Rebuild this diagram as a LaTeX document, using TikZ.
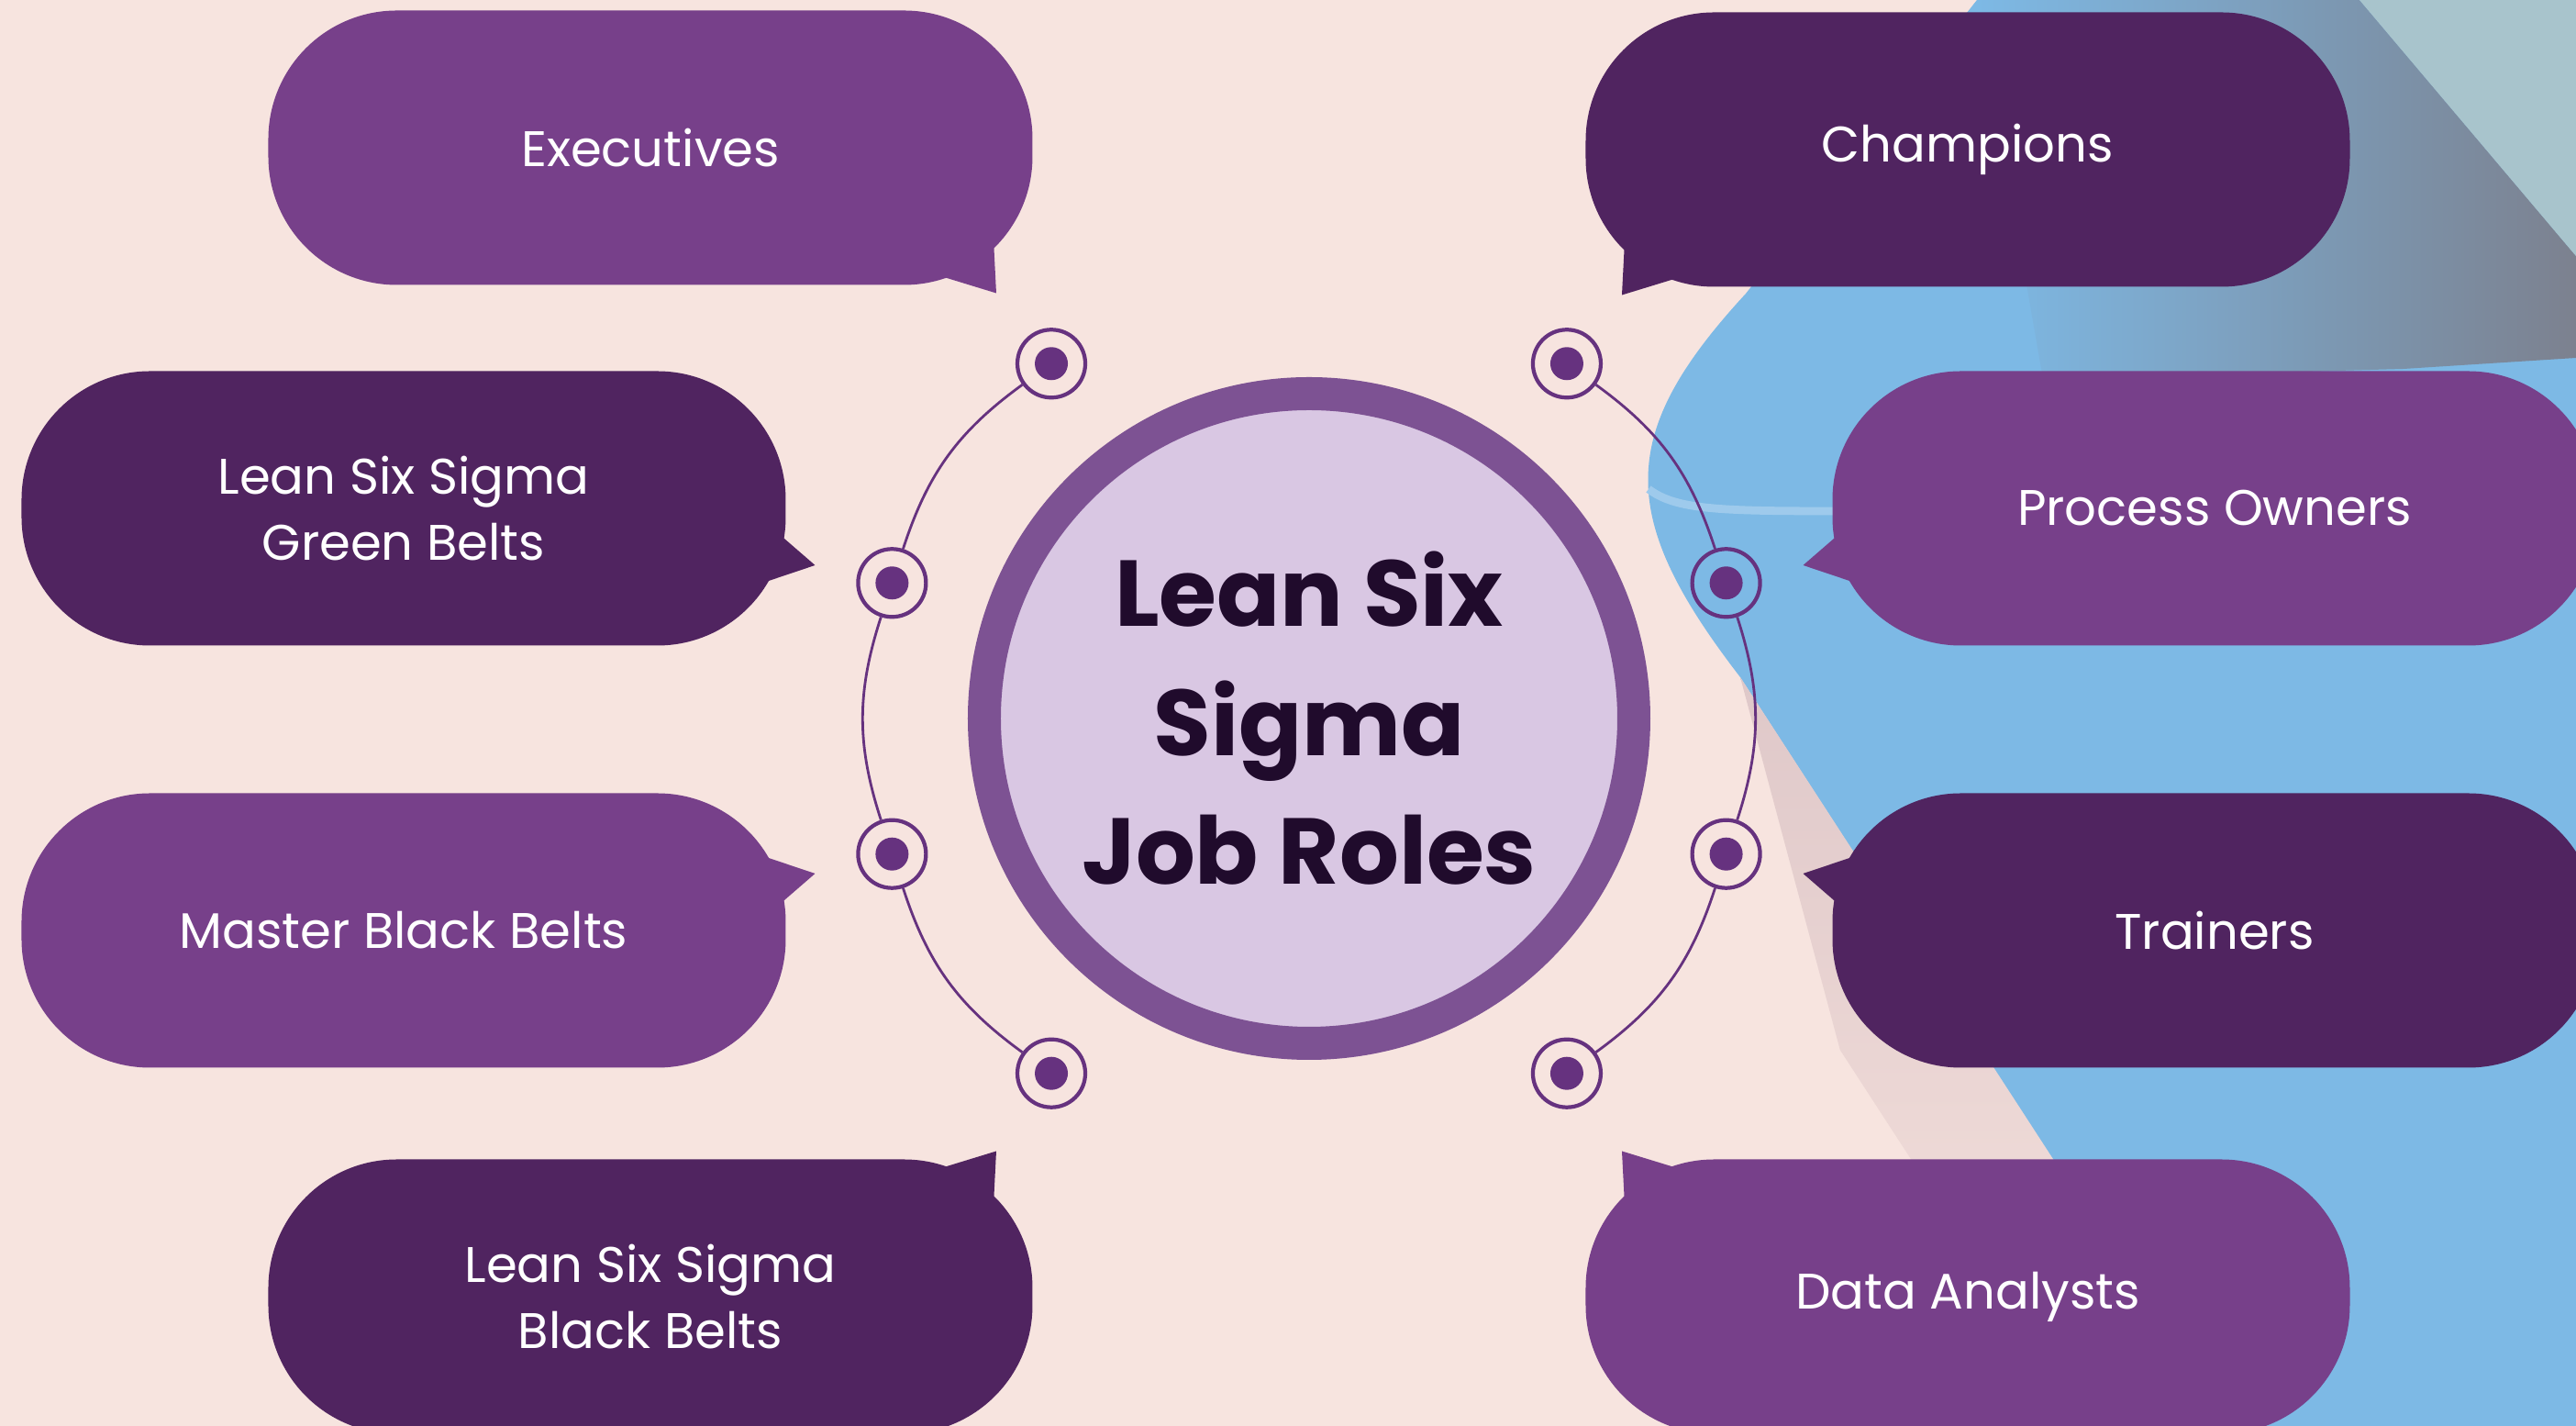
\documentclass[tikz,border=0pt]{standalone}
\usepackage{fontspec}
\setmainfont{Poppins}
\usetikzlibrary{positioning}
\definecolor{bgpink}{HTML}{F7E4DF}
\definecolor{shadowpink}{HTML}{DFC8C9}
\definecolor{plum}{HTML}{77408A}
\definecolor{darkplum}{HTML}{502460}
\definecolor{ringplum}{HTML}{7D5293}
\definecolor{lilac}{HTML}{D9C7E3}
\definecolor{dotplum}{HTML}{66327F}
\definecolor{titleink}{HTML}{200B2C}
\definecolor{skyblue}{HTML}{7DB9E5}
\definecolor{steelgray}{HTML}{7C818F}
\definecolor{paleblue}{HTML}{A8C4CC}
\tikzset{
  bubble/.style={rounded corners=1.4cm, minimum width=8.33cm, minimum height=2.99cm,
    text=white, align=center, font=\fontsize{15.5}{20.5}\selectfont},
  lightbub/.style={bubble, fill=plum},
  darkbub/.style={bubble, fill=darkplum},
  hub/.style={circle, fill=lilac, draw=ringplum, line width=0.36cm, minimum size=7.08cm,
    text=titleink, align=center, font=\fontsize{29}{40}\selectfont\bfseries},
  knob/.style={circle, draw=dotplum, line width=1.2pt, minimum size=0.74cm, inner sep=0pt,
    path picture={\fill[dotplum] (path picture bounding box.center) circle (0.18);}},
  link/.style={draw=dotplum, line width=0.8pt}
}

\begin{document}
\begin{tikzpicture}
\useasboundingbox (-14.27,-7.71) rectangle (13.81,7.83);
\fill[bgpink] (-14.27,-7.71) rectangle (13.81,7.83);
% blue shape behind the right column
\fill[skyblue] (7.28,7.83) -- (13.81,7.83) -- (13.81,-7.71) -- (9.98,-7.71) -- (4.70,0.45)
  .. controls (3.35,2.2) and (3.35,3.1) .. (4.76,4.63) -- cycle;
\shade[left color=skyblue, middle color=skyblue!45!steelgray, right color=steelgray]
  (7.28,7.83) -- (11.45,7.83) -- (13.81,5.04) -- (13.81,3.93) -- (11.93,3.81) -- (8.0,3.7) -- cycle;
\fill[paleblue] (11.45,7.83) -- (13.81,7.83) -- (13.81,5.04) -- cycle;
\draw[white!25!skyblue, line width=2.5pt] (3.70,2.50) .. controls (4.0,2.27) and (4.5,2.26) .. (5.8,2.26);
\begin{scope}[shift={(4.70,0.45)}, rotate=-57]
  \shade[bottom color=bgpink, top color=shadowpink] (0,0) -- (9.8,0) -- (9.8,-1.3) -- (4,-1.3) -- cycle;
\end{scope}

% role bubbles
\node[lightbub] (Ex) at (-7.18,6.22) {Executives};
\node[darkbub] (Ch) at (7.18,6.2) {Champions};
\node[darkbub] (GB) at (-9.87,2.29) {Lean Six Sigma\\Green Belts};
\node[lightbub] (PO) at (9.87,2.29) {Process Owners};
\node[lightbub] (MB) at (-9.87,-2.31) {Master Black Belts};
\node[darkbub] (Tr) at (9.87,-2.31) {Trainers};
\node[darkbub] (BB) at (-7.18,-6.3) {Lean Six Sigma\\Black Belts};
\node[lightbub] (DA) at (7.18,-6.3) {Data Analysts};

% tails
\fill[plum, shift={(Ex.center)}] (3.1,-1.38) -- (3.77,-1.585) -- (3.74,-1.0) -- cycle;
\fill[darkplum, shift={(Ch.center)}, xscale=-1] (3.1,-1.38) -- (3.77,-1.585) -- (3.74,-1.0) -- cycle;
\fill[darkplum, shift={(BB.center)}, yscale=-1] (3.1,-1.38) -- (3.77,-1.585) -- (3.74,-1.0) -- cycle;
\fill[plum, shift={(DA.center)}, scale=-1] (3.1,-1.38) -- (3.77,-1.585) -- (3.74,-1.0) -- cycle;
\fill[darkplum, shift={(GB.center)}] (4.0,-0.2) -- (4.485,-0.62) -- (3.8,-0.85) -- cycle;
\fill[plum, shift={(PO.center)}, xscale=-1] (4.0,-0.2) -- (4.485,-0.62) -- (3.8,-0.85) -- cycle;
\fill[plum, shift={(MB.center)}, yscale=-1] (4.0,-0.2) -- (4.485,-0.62) -- (3.8,-0.85) -- cycle;
\fill[darkplum, shift={(Tr.center)}, scale=-1] (4.0,-0.2) -- (4.485,-0.62) -- (3.8,-0.85) -- cycle;

% hub and knobs
\node[hub] (J) at (0,0) {Lean Six\\Sigma\\Job Roles};
\node[knob] (L1) at (126:4.78) {};
\node[knob] (L2) at (162:4.78) {};
\node[knob] (L3) at (198:4.78) {};
\node[knob] (L4) at (234:4.78) {};
\node[knob] (R1) at (54:4.78) {};
\node[knob] (R2) at (18:4.78) {};
\node[knob] (R3) at (-18:4.78) {};
\node[knob] (R4) at (-54:4.78) {};
\draw[link] (L1) to[bend right=18] (L2);
\draw[link] (L2) to[bend right=18] (L3);
\draw[link] (L3) to[bend right=18] (L4);
\draw[link] (R1) to[bend left=18] (R2);
\draw[link] (R2) to[bend left=18] (R3);
\draw[link] (R3) to[bend left=18] (R4);
\end{tikzpicture}
\end{document}
